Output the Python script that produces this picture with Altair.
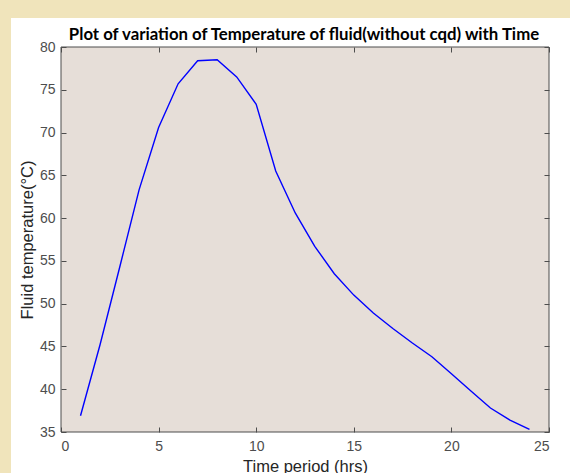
import altair as alt
import pandas as pd

hours = list(range(1, 25))
temps = [36.9, 45.2, 54.2, 63.3, 70.6, 75.7, 78.4, 78.5, 76.5, 73.3, 65.5, 60.6,
         56.7, 53.5, 51.0, 48.9, 47.1, 45.4, 43.8, 41.8, 39.8, 37.8, 36.4, 35.3]
x_ticks = [0, 5, 10, 15, 20, 25]
y_ticks = [35, 40, 45, 50, 55, 60, 65, 70, 75, 80]
title_text = "Plot of variation of Temperature of fluid(without cqd) with Time"

df = pd.DataFrame({"t": hours, "T": temps})

W, H = 488, 385
AX = "#4d4d4d"

xs = alt.Scale(domain=[0, 25], nice=False, zero=False)
ys = alt.Scale(domain=[35, 80], nice=False, zero=False)

common = dict(domain=False, grid=False, tickColor=AX, tickSize=5, tickWidth=1,
              labelColor="#4d4d4d", labelFont="Liberation Sans", labelFontSize=14,
              titleFont="Liberation Sans", titleFontSize=16.5, titleFontWeight="normal",
              titleColor="#262626", zindex=2)

one = pd.DataFrame({"a": [0]})

# white figure panel (decoration)
panel = alt.Chart(one).mark_rect(color="white").encode(
    x=alt.value(-50), x2=alt.value(W + 30), y=alt.value(-29), y2=alt.value(H + 60)
)
plotbg = alt.Chart(one).mark_rect(
    color="#e6ded8", stroke=AX, strokeWidth=1
).encode(x=alt.value(0), x2=alt.value(W), y=alt.value(0), y2=alt.value(H))

title = alt.Chart(one).mark_text(
    font="Lato", fontSize=16.8, fontWeight="bold", color="#000000",
    align="center", baseline="alphabetic"
).encode(x=alt.value(W / 2 - 1), y=alt.value(-7), text=alt.value(title_text))

line = alt.Chart(df).mark_line(color="#0000ff", strokeWidth=1.4, clip=True).encode(
    x=alt.X("t:Q", scale=xs, axis=alt.Axis(values=x_ticks, offset=-5, labelPadding=7,
                                             title="Time period (hrs)", titlePadding=5,
                                             **common)),
    y=alt.Y("T:Q", scale=ys, axis=alt.Axis(values=y_ticks, offset=-5, labelPadding=6,
                                             title="Fluid temperature(°C)", titlePadding=4,
                                             **common)),
)

mirror = alt.Chart(df).mark_line(opacity=0).encode(
    x=alt.X("t:Q", scale=xs, axis=alt.Axis(values=x_ticks, orient="top", offset=-5,
                                             labels=False, title=None, **common)),
    y=alt.Y("T:Q", scale=ys, axis=alt.Axis(values=y_ticks, orient="right", offset=-5,
                                             labels=False, title=None, **common)),
)

chart = alt.layer(panel, plotbg, title, line, mirror).resolve_scale(
    x="independent", y="independent"
).properties(
    width=W, height=H,
    background="#f0e4bb",
    autosize=alt.AutoSizeParams(type="none"),
    padding={"left": 61, "top": 47, "right": 21, "bottom": 41},
).configure_view(stroke=None)

chart.save("out.html", embed_options={"renderer": "svg", "actions": False})
